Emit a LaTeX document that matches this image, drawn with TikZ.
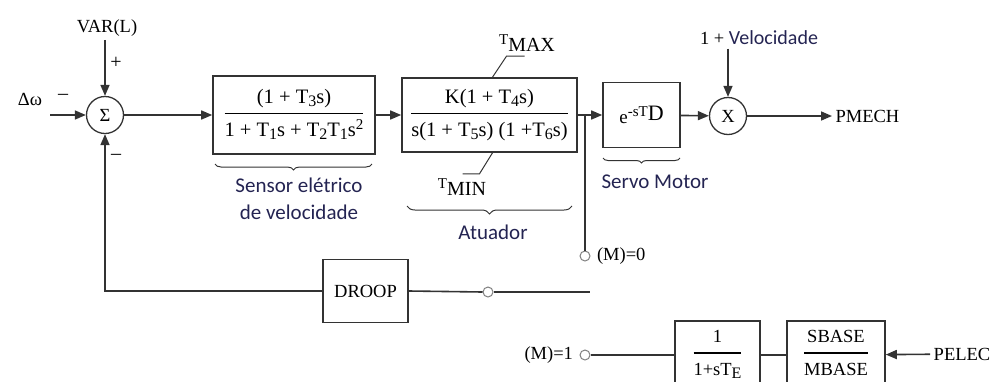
\documentclass[tikz,border=0pt]{standalone}
\usepackage{fontspec}
\setmainfont{Liberation Serif}
\newfontfamily\calfont{Carlito}
\usetikzlibrary{arrows.meta}
\usetikzlibrary{decorations.pathreplacing}
\usetikzlibrary{positioning}
\definecolor{rotulo}{rgb}{0.14,0.14,0.32}
\definecolor{linha}{gray}{0.2}

\newcommand{\ind}[1]{\raisebox{-0.4ex}{\fontsize{16}{16}\selectfont #1}}
\newcommand{\expo}[1]{\raisebox{0.75ex}{\fontsize{15}{15}\selectfont #1}}
\newcommand{\fracao}[2]{\setlength{\arrayrulewidth}{1.3pt}%
  \begin{tabular}{@{}c@{}}#1\\[3pt]\hline\rule{0pt}{22pt}#2\end{tabular}}

\tikzset{
  bloco/.style={draw=linha, line width=1.6pt, rectangle, inner sep=0pt, align=center},
  somador/.style={draw=linha, line width=1.3pt, circle, minimum size=37pt, inner sep=0pt},
  chave/.style={draw=gray, line width=1pt, circle, fill=white, minimum size=10pt, inner sep=0pt},
  fio/.style={draw=linha, line width=1.6pt},
  seta/.style={fio, -{Triangle[length=11pt,width=9pt]}},
  chaveta/.style={draw=linha, decorate, decoration={brace, mirror, amplitude=#1}, line width=1pt},
  rotulo/.style={font=\calfont\fontsize{21}{27}\selectfont, text=rotulo, align=center},
  sinal/.style={font=\fontsize{20}{20}\selectfont},
}

\begin{document}
\begin{tikzpicture}[x=1pt, y=-1pt, font=\fontsize{18.5}{21}\selectfont]
\clip (0,0) rectangle (994,381);

% malha principal
\node[somador] (soma) at (105,115) {Σ};
\node (varl) at (107,28) {VAR(L)};
\node (dw) at (30,99) {Δω};
\coordinate (ent) at (50,115);
\node[bloco, minimum width=162pt, minimum height=78pt] (sensor) at (294,115)
  {\fontsize{20.5}{23}\selectfont\fracao{(1 + T\ind{3}s)}{1 + T\ind{1}s + T\ind{2}T\ind{1}s\expo{2}}};
\node[bloco, minimum width=175pt, minimum height=74pt] (atuador) at (489.5,115)
  {\fontsize{20.5}{23}\selectfont\fracao{K(1 + T\ind{4}s)}{s(1 + T\ind{5}s) (1 +T\ind{6}s)}};
\node[bloco, minimum width=77pt, minimum height=65pt] (servo) at (641.5,115)
  {\fontsize{19}{22}\selectfont e\expo{-sT}\raisebox{0.3ex}{\fontsize{22}{22}\selectfont D}};
\node[somador] (mult) at (728,116) {X};
\node (vel) at (759,38) {1 + {\calfont\fontsize{20}{24}\selectfont\color{rotulo}Velocidade}};
\node[anchor=west] (pmech) at (832,116) {PMECH};
\coordinate (ram) at (585,115);

\draw[seta] (ent) -- (soma);
\draw[seta] (soma |- varl.south) -- (soma);
\draw[seta] (soma) -- (sensor);
\draw[seta] (sensor) -- (atuador);
\draw[seta] (atuador) -- (servo);
\draw[seta] (servo) -- (mult);
\draw[seta] (mult |- vel.south) -- (mult);
\draw[seta] (mult) -- (pmech);

\node[sinal] at (63,97) {–};
\node[sinal] at (116,63) {+};
\node[sinal] at (116,157) {–};

% limites
\node (tmax) at (527,43) {\expo{T}\fontsize{20}{22}\selectfont MAX};
\node (tmin) at (462,187) {\expo{T}\fontsize{20}{22}\selectfont MIN};
\draw[draw=linha, line width=1pt] ([xshift=3pt]atuador.north) -- ++(14,-21) -- ++(18,0);
\draw[draw=linha, line width=1pt] ([xshift=3pt]atuador.south) -- ++(-13,21) -- ++(-17,0);

% chaves
\draw[chaveta=6pt] (215,164) -- (372,164);
\node[rotulo] (lsensor) at (299,199) {Sensor elétrico\\de velocidade};
\draw[chaveta=8pt] (407,206) -- (572,206);
\node[rotulo] (latuador) at (493,232) {Atuador};
\draw[chaveta=5pt] (603,158) -- (680,158);
\node[rotulo] (lservo) at (655,182) {Servo Motor};

% realimentacao
\node[bloco, minimum width=85pt, minimum height=63pt] (droop) at (365.5,291) {DROOP};
\node[chave] (chd) at (488,292) {};
\coordinate (fimd) at (590,292);
\node[chave] (ch0) at (585,256) {};
\node[right=3pt of ch0] (m0) {(M)=0};
\draw[seta] (droop.west) -| (soma.south);
\draw[fio] (droop.east) -- (chd.west);
\draw[fio] (chd.east) -- (fimd);
\draw[fio] (ram) -- (ch0.north);

% potencia eletrica
\node[chave] (ch1) at (585,355) {};
\node[left=3pt of ch1] (m1) {(M)=1};
\node[bloco, minimum width=85pt, minimum height=68pt] (filtro) at (717.5,355)
  {\fracao{1}{1+sT\ind{E}}};
\node[bloco, minimum width=98pt, minimum height=68pt] (base) at (836,355)
  {\fracao{SBASE}{MBASE}};
\node (pelec) at (962,354) {PELEC};
\draw[fio] (ch1.east) -- (filtro.west);
\draw[fio] (filtro) -- (base);
\draw[seta] (pelec) -- (base);

\end{tikzpicture}
\end{document}
